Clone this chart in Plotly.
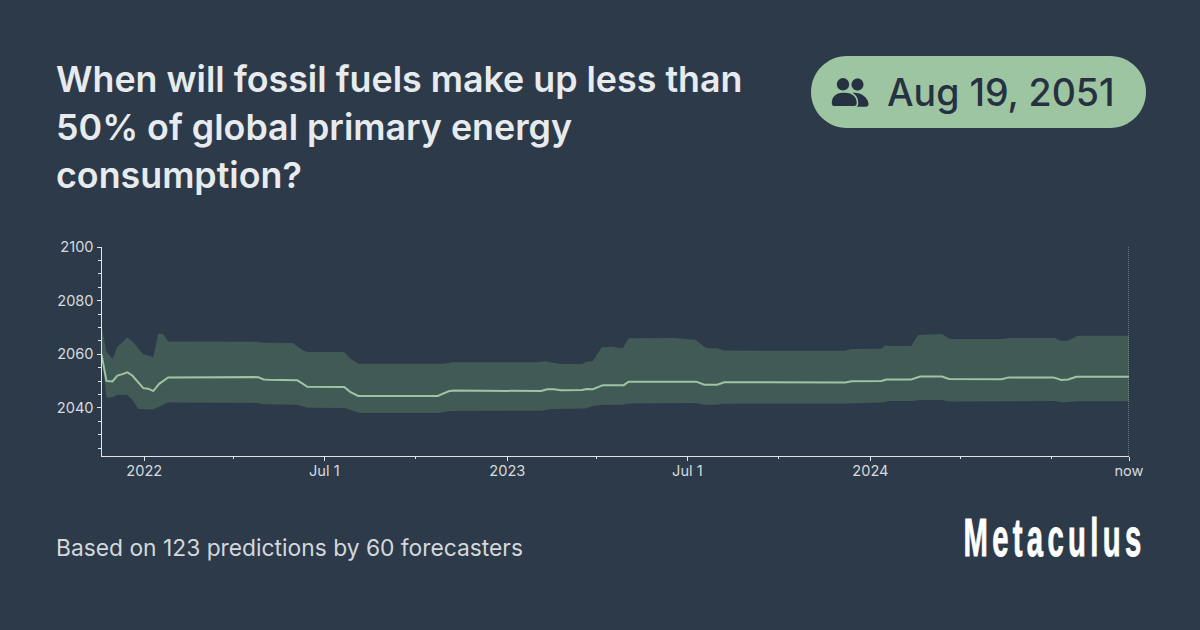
import plotly.graph_objects as go

TITLE_LINES = ["When will fossil fuels make up less than", "50% of global primary energy", "consumption?"]
PILL_TEXT = "Aug 19, 2051"
FOOTER = "Based on 123 predictions by 60 forecasters"
BRAND = "Metaculus"

median_dates = ["2021-11-19","2021-11-24","2021-11-30","2021-12-05","2021-12-10","2021-12-15","2021-12-20","2021-12-31",
 "2022-01-05","2022-01-10","2022-01-16","2022-01-25","2022-04-25","2022-05-01","2022-05-06","2022-06-04","2022-06-14",
 "2022-07-21","2022-07-27","2022-08-04","2022-10-23","2022-11-03","2022-11-08","2023-02-04","2023-02-10","2023-02-17",
 "2023-02-24","2023-03-17","2023-03-22","2023-03-28","2023-04-07","2023-04-28","2023-05-03","2023-07-10","2023-07-18",
 "2023-07-31","2023-08-07","2023-11-18","2023-12-07","2023-12-13","2024-01-12","2024-01-17","2024-02-11","2024-02-20",
 "2024-03-13","2024-03-20","2024-05-12","2024-05-19","2024-07-03","2024-07-11","2024-07-18","2024-07-26","2024-09-17"]
median_values = [2060,2050.1,2049.9,2052.1,2052.6,2053.3,2052.1,2047.4,
 2047.2,2046.3,2049,2051.4,2051.5,2050.6,2050.5,2050.3,2047.9,
 2047.8,2046,2044.5,2044.5,2046.2,2046.5,2046.3,2047,2047,
 2046.6,2046.7,2047.1,2047,2048.5,2048.5,2049.8,2049.8,2048.7,
 2048.7,2049.6,2049.6,2049.5,2050,2050.1,2050.6,2050.6,2051.7,
 2051.7,2050.8,2050.7,2051.4,2051.4,2050.4,2050.6,2051.6,2051.6]

upper_dates = ["2021-11-19","2021-11-24","2021-11-30","2021-12-05","2021-12-15","2021-12-20","2021-12-31","2022-01-05",
 "2022-01-10","2022-01-15","2022-01-20","2022-01-25","2022-04-25","2022-05-01","2022-05-30","2022-06-09","2022-06-14",
 "2022-07-21","2022-07-27","2022-08-04","2022-10-29","2022-11-07","2023-01-31","2023-02-08","2023-02-23","2023-03-17",
 "2023-03-22","2023-03-28","2023-04-06","2023-04-16","2023-04-27","2023-05-03","2023-06-17","2023-07-09","2023-07-20",
 "2023-07-31","2023-08-07","2023-12-06","2023-12-13","2024-01-12","2024-01-16","2024-01-20","2024-02-11","2024-02-18",
 "2024-03-13","2024-03-21","2024-05-13","2024-05-19","2024-07-04","2024-07-11","2024-07-18","2024-07-27","2024-09-17"]
upper_values = [2070.9,2061,2058.3,2062.8,2066.3,2064.9,2060,2059.6,
 2058.8,2067.7,2067.5,2064.8,2064.7,2064.3,2064.2,2061.6,2060.9,
 2060.9,2058.4,2056.5,2056.5,2057,2057,2057.4,2056.4,2056.4,
 2057.2,2057.5,2062.6,2062.8,2062.3,2066,2066.1,2065.4,2062.4,
 2062.3,2061.4,2061.3,2062,2062.1,2063.4,2063.1,2063.1,2067.2,
 2067.6,2065.7,2065.7,2066.1,2066.1,2065,2065.1,2066.9,2066.9]

lower_dates = ["2021-11-19","2021-11-24","2021-11-30","2021-12-05","2021-12-15","2021-12-20","2021-12-26","2022-01-10",
 "2022-01-25","2022-04-25","2022-05-01","2022-06-04","2022-06-14","2022-07-21","2022-07-30","2022-08-06","2022-10-24",
 "2022-11-03","2023-02-04","2023-02-14","2023-03-21","2023-03-27","2023-04-05","2023-04-26","2023-05-03","2023-07-08",
 "2023-07-19","2023-07-31","2023-08-05","2023-12-08","2024-01-14","2024-01-20","2024-02-13","2024-02-20","2024-03-13",
 "2024-03-20","2024-05-13","2024-05-20","2024-07-04","2024-07-13","2024-07-26","2024-09-17"]
lower_values = [2059.8,2043.8,2044,2044.9,2044.8,2043.1,2039.6,2039.4,
 2042,2041.9,2041.4,2041.2,2040.1,2040,2039,2038.1,2038.1,
 2038.9,2039,2039.6,2039.8,2040.6,2041.1,2041.2,2041.7,2041.9,
 2041.2,2041.2,2041.6,2041.7,2042,2042.6,2042.6,2043,2043,
 2042.4,2042.4,2042.6,2042.6,2042,2042.5,2042.5]

x_tick_vals = ["2022-01-01","2022-07-01","2023-01-01","2023-07-01","2024-01-01","2024-09-17"]
x_tick_text = ["2022","Jul 1","2023","Jul 1","2024","now"]
x_minor_vals = ["2022-04-01","2022-10-01","2023-04-01","2023-10-01","2024-04-01","2024-07-01"]
y_tick_vals = [2040, 2060, 2080, 2100]
y_minor_vals = [2025, 2030, 2035, 2045, 2050, 2055, 2065, 2070, 2075, 2085, 2090, 2095]

BG = "#2d3a4a"
GREEN = "#9ec5a1"
BAND = "#425a55"
AXIS = "#e3e6e9"
TEXT = "#e7ebee"
DARK = "#263241"
W, H = 1200, 630

fig = go.Figure()
fig.add_trace(go.Scatter(x=upper_dates + lower_dates[::-1], y=upper_values + lower_values[::-1],
                         mode="lines", fill="toself", fillcolor=BAND, line=dict(width=0), hoverinfo="skip"))
fig.add_trace(go.Scatter(x=median_dates, y=median_values, mode="lines", line=dict(color=GREEN, width=2)))


def overlay_shape(path, fill, line=None):
    fig.add_shape(type="path", path=path, xref="x2", yref="y2", fillcolor=fill, layer="above",
                  line=dict(width=1.6 if line else 0, color=line or fill))


def circle(cx, cy, r):
    k = 0.5523 * r
    return (f"M{cx-r},{cy} C{cx-r},{cy-k} {cx-k},{cy-r} {cx},{cy-r} C{cx+k},{cy-r} {cx+r},{cy-k} {cx+r},{cy} "
            f"C{cx+r},{cy+k} {cx+k},{cy+r} {cx},{cy+r} C{cx-k},{cy+r} {cx-r},{cy+k} {cx-r},{cy} Z")


def round_rect(x0, y0, x1, y1, r):
    k = 0.5523 * r
    return (f"M{x0+r},{y0} L{x1-r},{y0} C{x1-r+k},{y0} {x1},{y0+r-k} {x1},{y0+r} L{x1},{y1-r} "
            f"C{x1},{y1-r+k} {x1-r+k},{y1} {x1-r},{y1} L{x0+r},{y1} C{x0+r-k},{y1} {x0},{y1-r+k} {x0},{y1-r} "
            f"L{x0},{y0+r} C{x0},{y0+r-k} {x0+r-k},{y0} {x0+r},{y0} Z")


overlay_shape(round_rect(811, 56, 1146, 128, 36), GREEN)
overlay_shape(circle(857.5, 84.5, 6), DARK)
overlay_shape("M852,93 C860,92 868,97 868.5,104 C868.5,106 867.5,106.7 866,106.7 L850,106.7 Z", DARK)
overlay_shape(circle(843, 84.3, 7), DARK, GREEN)
overlay_shape("M831,103 C831,96 836,92 842,92 L846,92 C852,92 857.5,96 857.5,103 C857.5,105.5 856,106.8 854,106.8 "
              "L834,106.8 C832,106.8 831,105.5 831,103 Z", DARK, GREEN)

fig.add_shape(type="line", x0=x_tick_vals[-1], x1=x_tick_vals[-1], y0=0, y1=1, xref="x", yref="y domain",
              line=dict(color="#aab0b5", width=1, dash="1px,1px"))


def overlay_text(x, y, text, size, color, anchor="left", family="Inter", weight=400):
    fig.add_annotation(x=x, y=y, xref="x2", yref="y2", text=text, showarrow=False, xanchor=anchor, yanchor="middle",
                       font=dict(family=family, size=size, color=color, weight=weight), align="left")


for i, line in enumerate(TITLE_LINES):
    overlay_text(54, 79 + 48 * i, line, 35.8, TEXT, weight=600)
overlay_text(885, 92, PILL_TEXT, 37.5, DARK, weight=450)
overlay_text(54, 547, FOOTER, 22.8, "#d3d8dc")
overlay_text(1053.5, 537, BRAND, 54, "#ffffff", anchor="center", family="Liberation Sans", weight=700)

tick_font = dict(family="Inter", size=14.6, color="#d6dade")
fig.update_layout(
    width=W, height=H, margin=dict(l=0, r=0, t=0, b=0, pad=0, autoexpand=False),
    paper_bgcolor=BG, plot_bgcolor="rgba(0,0,0,0)", showlegend=False, hovermode=False,
    xaxis=dict(domain=[101.5 / W, 1129 / W], type="date", range=["2021-11-19", "2024-09-17"],
               showgrid=False, zeroline=False, showline=True, linecolor=AXIS, linewidth=1,
               tickmode="array", tickvals=x_tick_vals, ticktext=x_tick_text, ticks="outside", ticklen=4,
               tickcolor=AXIS, tickwidth=1, tickangle=0, tickfont=tick_font, anchor="y", ticklabelstandoff=-3,
               minor=dict(tickmode="array", tickvals=x_minor_vals, ticks="outside", ticklen=2, tickcolor=AXIS, tickwidth=1)),
    yaxis=dict(domain=[(H - 456) / H, (H - 247) / H], range=[2022.1, 2100],
               showgrid=False, zeroline=False, showline=True, linecolor=AXIS, linewidth=1,
               tickmode="array", tickvals=y_tick_vals, ticks="outside", ticklen=4,
               tickcolor=AXIS, tickwidth=1, tickfont=tick_font, anchor="x",
               minor=dict(tickmode="array", tickvals=y_minor_vals, ticks="outside", ticklen=2.5, tickcolor=AXIS, tickwidth=1)),
    xaxis2=dict(domain=[0, 1], range=[0, W], visible=False, anchor="y2", fixedrange=True),
    yaxis2=dict(domain=[0, 1], range=[H, 0], visible=False, anchor="x2", fixedrange=True),
)
# an empty trace keeps the full-page overlay axes alive for the header, pill and footer
fig.add_trace(go.Scatter(x=[None], y=[None], xaxis="x2", yaxis="y2", hoverinfo="skip"))

post = """
document.documentElement.style.overflow='hidden';
document.body.style.margin='0';
document.querySelectorAll('text').forEach(function(t){
  if(t.textContent==='Metaculus'){
    t.style.letterSpacing='8px';
    t.style.stroke='#ffffff';
    t.style.strokeWidth='0.9px';
    t.setAttribute('textLength','182');
    t.setAttribute('lengthAdjust','spacingAndGlyphs');
    var r=t.getBoundingClientRect();
    var dx=1054.5-(r.left+r.right)/2;
    t.setAttribute('x',parseFloat(t.getAttribute('x'))+dx);
    var p=t.parentNode;
    while(p&&p.tagName!=='svg'){ if(p.removeAttribute) p.removeAttribute('clip-path'); p=p.parentNode; }
  }
});
"""
fig.write_html("out.html", config=dict(displayModeBar=False, responsive=False), post_script=post)
